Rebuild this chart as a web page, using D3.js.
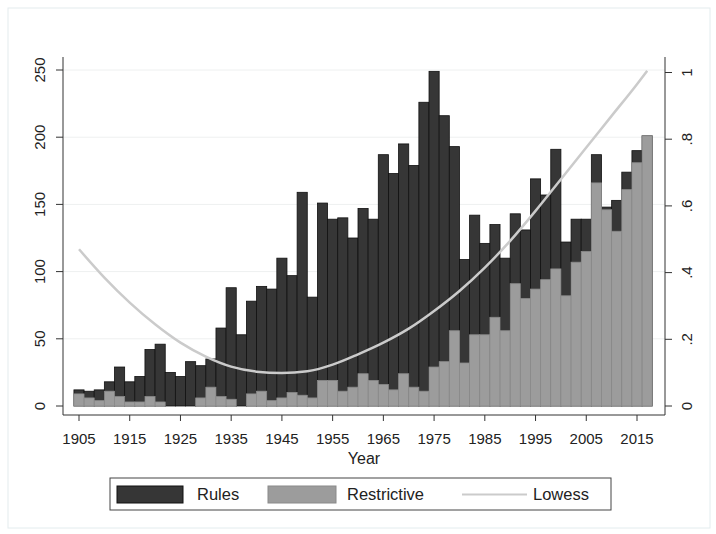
<!DOCTYPE html>
<html>
<head>
<meta charset="utf-8">
<script src="https://cdn.jsdelivr.net/npm/d3@7"></script>
<style>
  body { margin: 0; background: #fff; }
  svg { display: block; font-family: Arial, "Liberation Sans", sans-serif; }
</style>
</head>
<body>
<svg width="716" height="534"></svg>
<script>
// one bar every two years
var years = [1905, 1907, 1909, 1911, 1913, 1915, 1917, 1919, 1921, 1923,
  1925, 1927, 1929, 1931, 1933, 1935, 1937, 1939, 1941, 1943,
  1945, 1947, 1949, 1951, 1953, 1955, 1957, 1959, 1961, 1963,
  1965, 1967, 1969, 1971, 1973, 1975, 1977, 1979, 1981, 1983,
  1985, 1987, 1989, 1991, 1993, 1995, 1997, 1999, 2001, 2003,
  2005, 2007, 2009, 2011, 2013, 2015, 2017];

var rules = [12, 11, 12, 18, 29, 18, 22, 42, 46, 25,
  22, 33, 30, 35, 58, 88, 53, 78, 89, 87,
  110, 97, 159, 81, 151, 139, 140, 125, 147, 139,
  187, 173, 195, 179, 226, 249, 216, 193, 109, 142,
  121, 135, 110, 143, 131, 169, 157, 191, 122, 139,
  139, 187, 148, 153, 174, 190, 201];

var restrictive = [9, 6, 4, 11, 7, 3, 3, 7, 3, 0,
  0, 0, 6, 14, 7, 5, 0, 9, 11, 4,
  6, 10, 8, 6, 19, 19, 11, 14, 24, 19,
  16, 12, 24, 14, 11, 29, 33, 56, 32, 53,
  53, 66, 56, 91, 80, 87, 94, 102, 82, 107,
  115, 166, 146, 130, 161, 181, 201];

// lowess curve (share, 0-1)
var lowessYears = [1905, 1910, 1915, 1920, 1925, 1930, 1935, 1940, 1945, 1950,
  1955, 1960, 1965, 1970, 1975, 1980, 1985, 1990, 1995, 2000,
  2005, 2010, 2015, 2017];
var lowessVals = [0.47, 0.385, 0.31, 0.245, 0.19, 0.148, 0.118, 0.103, 0.099, 0.104,
  0.124, 0.155, 0.19, 0.232, 0.285, 0.345, 0.415, 0.495, 0.585, 0.68,
  0.775, 0.87, 0.965, 1.005];

var xTicks = [1905, 1915, 1925, 1935, 1945, 1955, 1965, 1975, 1985, 1995, 2005, 2015];
var yTicks = [0, 50, 100, 150, 200, 250];
var y2Ticks = [0, 0.2, 0.4, 0.6, 0.8, 1];

var svg = d3.select("svg"),
  plotLeft = 63, plotRight = 665, plotTop = 57, plotBottom = 415;

var x = d3.scaleLinear().domain([1905, 2015]).range([79, 637]);
var y = d3.scaleLinear().domain([0, 250]).range([406, 70]);
var y2 = d3.scaleLinear().domain([0, 1]).range([406, 72.5]);
var bw = x(1907) - x(1905);

// outer panel
svg.append("rect")
  .attr("x", 8).attr("y", 8).attr("width", 702).attr("height", 520)
  .attr("fill", "#fff").attr("stroke", "#e3ecee");

// grid
svg.append("g").selectAll("line")
  .data(yTicks.slice(1))
  .enter().append("line")
  .attr("x1", plotLeft).attr("x2", plotRight)
  .attr("y1", function(d) { return y(d); }).attr("y2", function(d) { return y(d); })
  .attr("stroke", "#eef0f0");

var data = years.map(function(yr, i) { return {year: yr, rules: rules[i], restrictive: restrictive[i]}; });

svg.append("g").selectAll("rect")
  .data(data)
  .enter().append("rect")
  .attr("x", function(d) { return x(d.year) - bw / 2; })
  .attr("width", bw)
  .attr("y", function(d) { return y(d.rules); })
  .attr("height", function(d) { return y(0) - y(d.rules); })
  .attr("fill", "#363636")
  .attr("stroke", "#111")
  .attr("stroke-width", 0.8);

svg.append("g").selectAll("rect")
  .data(data.filter(function(d) { return d.restrictive > 0; }))
  .enter().append("rect")
  .attr("x", function(d) { return x(d.year) - bw / 2; })
  .attr("width", bw)
  .attr("y", function(d) { return y(d.restrictive); })
  .attr("height", function(d) { return y(0) - y(d.restrictive); })
  .attr("fill", "#9c9c9c")
  .attr("stroke", "#8a8a8a")
  .attr("stroke-width", 0.8);

var line = d3.line()
  .x(function(d, i) { return x(lowessYears[i]); })
  .y(function(d) { return y2(d); })
  .curve(d3.curveMonotoneX);

svg.append("path")
  .attr("d", line(lowessVals))
  .attr("fill", "none")
  .attr("stroke", "#cbcbcb")
  .attr("stroke-width", 2.5);

// axes
var axisColor = "#333";
svg.append("line").attr("x1", plotLeft).attr("x2", plotLeft).attr("y1", plotTop).attr("y2", plotBottom).attr("stroke", axisColor);
svg.append("line").attr("x1", plotRight).attr("x2", plotRight).attr("y1", plotTop).attr("y2", plotBottom).attr("stroke", axisColor);
svg.append("line").attr("x1", plotLeft).attr("x2", plotRight).attr("y1", plotBottom).attr("y2", plotBottom).attr("stroke", axisColor);

var gx = svg.append("g");
gx.selectAll("line").data(xTicks).enter().append("line")
  .attr("x1", function(d) { return x(d); }).attr("x2", function(d) { return x(d); })
  .attr("y1", plotBottom).attr("y2", plotBottom + 6)
  .attr("stroke", axisColor);
gx.selectAll("text").data(xTicks).enter().append("text")
  .attr("x", function(d) { return x(d); })
  .attr("y", plotBottom + 29)
  .attr("text-anchor", "middle")
  .attr("font-size", 15)
  .attr("fill", "#222")
  .text(function(d) { return d; });

svg.append("text")
  .attr("x", (plotLeft + plotRight) / 2).attr("y", 464)
  .attr("text-anchor", "middle")
  .attr("font-size", 16)
  .attr("fill", "#222")
  .text("Year");

var gy = svg.append("g");
gy.selectAll("line").data(yTicks).enter().append("line")
  .attr("x1", plotLeft - 7).attr("x2", plotLeft)
  .attr("y1", function(d) { return y(d); }).attr("y2", function(d) { return y(d); })
  .attr("stroke", axisColor);
gy.selectAll("text").data(yTicks).enter().append("text")
  .attr("transform", function(d) { return "translate(45," + y(d) + ") rotate(-90)"; })
  .attr("text-anchor", "middle")
  .attr("font-size", 15)
  .attr("fill", "#222")
  .text(function(d) { return d; });

var fmt2 = function(d) { return d === 0 ? "0" : d === 1 ? "1" : d3.format(".1f")(d).replace(/^0/, ""); };
var gy2 = svg.append("g");
gy2.selectAll("line").data(y2Ticks).enter().append("line")
  .attr("x1", plotRight).attr("x2", plotRight + 7)
  .attr("y1", function(d) { return y2(d); }).attr("y2", function(d) { return y2(d); })
  .attr("stroke", axisColor);
gy2.selectAll("text").data(y2Ticks).enter().append("text")
  .attr("transform", function(d) { return "translate(692," + y2(d) + ") rotate(-90)"; })
  .attr("text-anchor", "middle")
  .attr("font-size", 15)
  .attr("fill", "#222")
  .text(fmt2);

// legend
var lg = svg.append("g");
lg.append("rect").attr("x", 110).attr("y", 478).attr("width", 501).attr("height", 32)
  .attr("fill", "#fff").attr("stroke", "#444");
lg.append("rect").attr("x", 117).attr("y", 486).attr("width", 66).attr("height", 17)
  .attr("fill", "#363636").attr("stroke", "#111");
lg.append("text").attr("x", 197).attr("y", 500).attr("font-size", 16.5).attr("fill", "#222").text("Rules");
lg.append("rect").attr("x", 268).attr("y", 486).attr("width", 68).attr("height", 17)
  .attr("fill", "#9c9c9c").attr("stroke", "#8a8a8a");
lg.append("text").attr("x", 347).attr("y", 500).attr("font-size", 16.5).attr("fill", "#222").text("Restrictive");
lg.append("line").attr("x1", 462).attr("x2", 527).attr("y1", 494.5).attr("y2", 494.5)
  .attr("stroke", "#cbcbcb").attr("stroke-width", 2);
lg.append("text").attr("x", 533).attr("y", 500).attr("font-size", 16.5).attr("fill", "#222").text("Lowess");
</script>
</body>
</html>
